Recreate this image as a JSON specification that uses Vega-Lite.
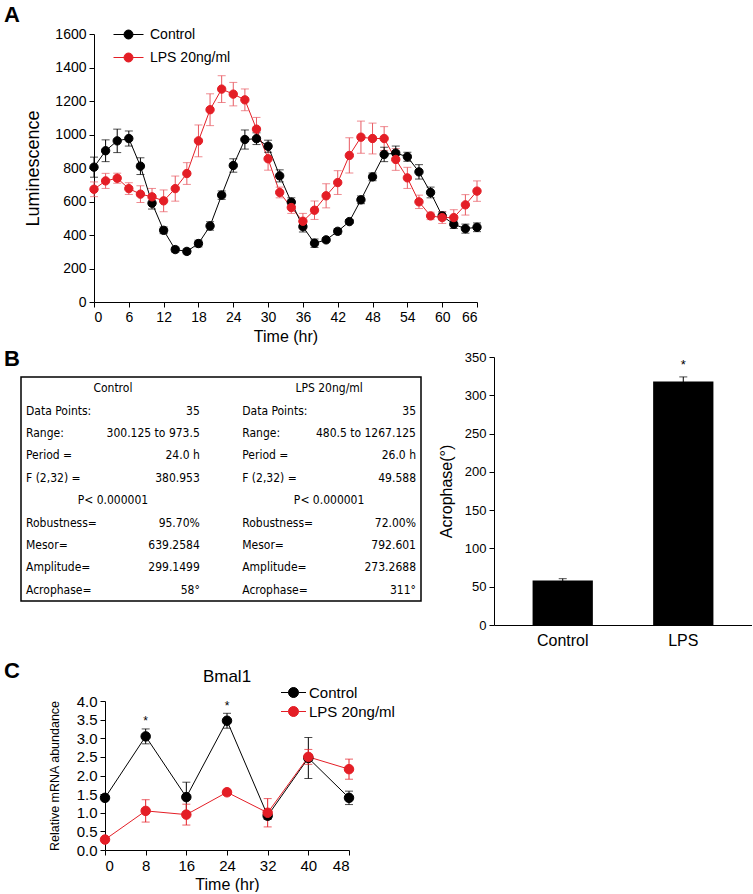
{
  "$schema": "https://vega.github.io/schema/vega-lite/v6.json",
  "padding": {"left": 4, "top": 4, "right": 0, "bottom": 0},
  "spacing": 4,
  "resolve": {"scale": {"color": "independent", "stroke": "independent"}, "legend": {"color": "independent", "stroke": "independent"}},
  "config": {
    "font": "Liberation Sans",
    "view": {"stroke": null},
    "axis": {"grid": false, "domainColor": "black", "tickColor": "black", "labelColor": "black", "titleColor": "black", "titleFontWeight": "normal", "labelFont": "Liberation Sans", "titleFont": "Liberation Sans", "tickSize": 5, "labelPadding": 3, "domainWidth": 1, "tickWidth": 1},
    "title": {"color": "black", "font": "Liberation Sans"},
    "legend": {"labelFont": "Liberation Sans", "labelColor": "black"}
  },
  "datasets": {
    "lum": [
      {"time": 0, "group": "Control", "lum": 805, "err": 60},
      {"time": 2, "group": "Control", "lum": 903, "err": 65},
      {"time": 4, "group": "Control", "lum": 962, "err": 70},
      {"time": 6, "group": "Control", "lum": 976, "err": 45},
      {"time": 8, "group": "Control", "lum": 811, "err": 50},
      {"time": 10, "group": "Control", "lum": 590, "err": 35},
      {"time": 12, "group": "Control", "lum": 428, "err": 20},
      {"time": 14, "group": "Control", "lum": 313, "err": 15},
      {"time": 16, "group": "Control", "lum": 302, "err": 15},
      {"time": 18, "group": "Control", "lum": 349, "err": 20},
      {"time": 20, "group": "Control", "lum": 454, "err": 25},
      {"time": 22, "group": "Control", "lum": 638, "err": 25},
      {"time": 24, "group": "Control", "lum": 815, "err": 40},
      {"time": 26, "group": "Control", "lum": 970, "err": 57},
      {"time": 28, "group": "Control", "lum": 975, "err": 35},
      {"time": 30, "group": "Control", "lum": 930, "err": 36},
      {"time": 32, "group": "Control", "lum": 753, "err": 36},
      {"time": 34, "group": "Control", "lum": 596, "err": 26},
      {"time": 36, "group": "Control", "lum": 450, "err": 32},
      {"time": 38, "group": "Control", "lum": 351, "err": 25},
      {"time": 40, "group": "Control", "lum": 371, "err": 12},
      {"time": 42, "group": "Control", "lum": 422, "err": 17},
      {"time": 44, "group": "Control", "lum": 480, "err": 12},
      {"time": 46, "group": "Control", "lum": 610, "err": 23},
      {"time": 48, "group": "Control", "lum": 747, "err": 23},
      {"time": 50, "group": "Control", "lum": 881, "err": 43},
      {"time": 52, "group": "Control", "lum": 889, "err": 42},
      {"time": 54, "group": "Control", "lum": 867, "err": 27},
      {"time": 56, "group": "Control", "lum": 777, "err": 43},
      {"time": 58, "group": "Control", "lum": 654, "err": 32},
      {"time": 60, "group": "Control", "lum": 514, "err": 23},
      {"time": 62, "group": "Control", "lum": 464, "err": 25},
      {"time": 64, "group": "Control", "lum": 438, "err": 27},
      {"time": 66, "group": "Control", "lum": 446, "err": 26},
      {"time": 0, "group": "LPS 20ng/ml", "lum": 673, "err": 44},
      {"time": 2, "group": "LPS 20ng/ml", "lum": 723, "err": 45},
      {"time": 4, "group": "LPS 20ng/ml", "lum": 739, "err": 30},
      {"time": 6, "group": "LPS 20ng/ml", "lum": 677, "err": 35},
      {"time": 8, "group": "LPS 20ng/ml", "lum": 644, "err": 50},
      {"time": 10, "group": "LPS 20ng/ml", "lum": 628, "err": 50},
      {"time": 12, "group": "LPS 20ng/ml", "lum": 604, "err": 65},
      {"time": 14, "group": "LPS 20ng/ml", "lum": 677, "err": 75},
      {"time": 16, "group": "LPS 20ng/ml", "lum": 767, "err": 65},
      {"time": 18, "group": "LPS 20ng/ml", "lum": 962, "err": 95},
      {"time": 20, "group": "LPS 20ng/ml", "lum": 1148, "err": 95},
      {"time": 22, "group": "LPS 20ng/ml", "lum": 1271, "err": 80},
      {"time": 24, "group": "LPS 20ng/ml", "lum": 1241, "err": 70},
      {"time": 26, "group": "LPS 20ng/ml", "lum": 1207, "err": 65},
      {"time": 28, "group": "LPS 20ng/ml", "lum": 1032, "err": 70},
      {"time": 30, "group": "LPS 20ng/ml", "lum": 855, "err": 68},
      {"time": 32, "group": "LPS 20ng/ml", "lum": 654, "err": 32},
      {"time": 34, "group": "LPS 20ng/ml", "lum": 564, "err": 35},
      {"time": 36, "group": "LPS 20ng/ml", "lum": 482, "err": 47},
      {"time": 38, "group": "LPS 20ng/ml", "lum": 548, "err": 55},
      {"time": 40, "group": "LPS 20ng/ml", "lum": 634, "err": 72},
      {"time": 42, "group": "LPS 20ng/ml", "lum": 713, "err": 71},
      {"time": 44, "group": "LPS 20ng/ml", "lum": 875, "err": 105},
      {"time": 46, "group": "LPS 20ng/ml", "lum": 984, "err": 96},
      {"time": 48, "group": "LPS 20ng/ml", "lum": 976, "err": 92},
      {"time": 50, "group": "LPS 20ng/ml", "lum": 976, "err": 71},
      {"time": 52, "group": "LPS 20ng/ml", "lum": 851, "err": 65},
      {"time": 54, "group": "LPS 20ng/ml", "lum": 741, "err": 63},
      {"time": 56, "group": "LPS 20ng/ml", "lum": 598, "err": 40},
      {"time": 58, "group": "LPS 20ng/ml", "lum": 514, "err": 22},
      {"time": 60, "group": "LPS 20ng/ml", "lum": 504, "err": 35},
      {"time": 62, "group": "LPS 20ng/ml", "lum": 504, "err": 47},
      {"time": 64, "group": "LPS 20ng/ml", "lum": 580, "err": 61},
      {"time": 66, "group": "LPS 20ng/ml", "lum": 662, "err": 61}
    ],
    "stats": [
      {"group": "Control", "stat": "Header", "label": "Control", "value": ""},
      {"group": "Control", "stat": "Data Points", "label": "Data Points:", "value": "35"},
      {"group": "Control", "stat": "Range", "label": "Range:", "value": "300.125 to 973.5"},
      {"group": "Control", "stat": "Period", "label": "Period =", "value": "24.0 h"},
      {"group": "Control", "stat": "F", "label": "F (2,32) =", "value": "380.953"},
      {"group": "Control", "stat": "P", "label": "P< 0.000001", "value": ""},
      {"group": "Control", "stat": "Robustness", "label": "Robustness=", "value": "95.70%"},
      {"group": "Control", "stat": "Mesor", "label": "Mesor=", "value": "639.2584"},
      {"group": "Control", "stat": "Amplitude", "label": "Amplitude=", "value": "299.1499"},
      {"group": "Control", "stat": "Acrophase", "label": "Acrophase=", "value": "58°"},
      {"group": "LPS 20ng/ml", "stat": "Header", "label": "LPS 20ng/ml", "value": ""},
      {"group": "LPS 20ng/ml", "stat": "Data Points", "label": "Data Points:", "value": "35"},
      {"group": "LPS 20ng/ml", "stat": "Range", "label": "Range:", "value": "480.5 to 1267.125"},
      {"group": "LPS 20ng/ml", "stat": "Period", "label": "Period =", "value": "26.0 h"},
      {"group": "LPS 20ng/ml", "stat": "F", "label": "F (2,32) =", "value": "49.588"},
      {"group": "LPS 20ng/ml", "stat": "P", "label": "P< 0.000001", "value": ""},
      {"group": "LPS 20ng/ml", "stat": "Robustness", "label": "Robustness=", "value": "72.00%"},
      {"group": "LPS 20ng/ml", "stat": "Mesor", "label": "Mesor=", "value": "792.601"},
      {"group": "LPS 20ng/ml", "stat": "Amplitude", "label": "Amplitude=", "value": "273.2688"},
      {"group": "LPS 20ng/ml", "stat": "Acrophase", "label": "Acrophase=", "value": "311°"}
    ],
    "acro": [
      {"group": "Control", "acro": 58, "err": 2.5, "sig": ""},
      {"group": "LPS", "acro": 318, "err": 6, "sig": "*"}
    ],
    "bmal": [
      {"time": 0, "group": "Control", "rel": 1.4, "err": 0.05, "sig": ""},
      {"time": 8, "group": "Control", "rel": 3.05, "err": 0.2, "sig": "*"},
      {"time": 16, "group": "Control", "rel": 1.42, "err": 0.4, "sig": ""},
      {"time": 24, "group": "Control", "rel": 3.47, "err": 0.2, "sig": "*"},
      {"time": 32, "group": "Control", "rel": 0.92, "err": 0.1, "sig": ""},
      {"time": 40, "group": "Control", "rel": 2.47, "err": 0.55, "sig": ""},
      {"time": 48, "group": "Control", "rel": 1.4, "err": 0.18, "sig": ""},
      {"time": 0, "group": "LPS 20ng/ml", "rel": 0.28, "err": 0.03, "sig": ""},
      {"time": 8, "group": "LPS 20ng/ml", "rel": 1.05, "err": 0.3, "sig": ""},
      {"time": 16, "group": "LPS 20ng/ml", "rel": 0.95, "err": 0.28, "sig": ""},
      {"time": 24, "group": "LPS 20ng/ml", "rel": 1.55, "err": 0.08, "sig": ""},
      {"time": 32, "group": "LPS 20ng/ml", "rel": 1.0, "err": 0.38, "sig": ""},
      {"time": 40, "group": "LPS 20ng/ml", "rel": 2.5, "err": 0.2, "sig": ""},
      {"time": 48, "group": "LPS 20ng/ml", "rel": 2.17, "err": 0.27, "sig": ""}
    ],
    "none": []
  },
  "vconcat": [
    {
      "spacing": 2,
      "resolve": {"scale": {"color": "independent", "stroke": "independent"}, "legend": {"color": "independent", "stroke": "independent"}},
      "hconcat": [
        {"width": 1, "height": 1, "data": {"name": "none"}, "mark": "point", "title": {"text": "A", "anchor": "start", "dx": -17, "fontSize": 22, "fontWeight": "bold", "baseline": "alphabetic", "offset": -10}},
        {
          "width": 383,
          "height": 268,
          "data": {"name": "lum"},
          "encoding": {
            "x": {"field": "time", "type": "quantitative", "scale": {"domain": [0, 66], "nice": false}, "axis": {"title": "Time (hr)", "values": [0, 6, 12, 18, 24, 30, 36, 42, 48, 54, 60, 66], "labelFontSize": 14, "titleFontSize": 16, "titlePadding": 4}},
            "y": {"field": "lum", "type": "quantitative", "scale": {"domain": [0, 1600], "nice": false}, "axis": {"title": "Luminescence", "values": [0, 200, 400, 600, 800, 1000, 1200, 1400, 1600], "format": "d", "labelFontSize": 14, "titleFontSize": 18, "titlePadding": 12}}
          },
          "layer": [
            {"transform": [{"filter": "datum.group == 'LPS 20ng/ml'"}], "mark": {"type": "line", "color": "#e41e26", "strokeWidth": 1}},
            {"transform": [{"filter": "datum.group == 'Control'"}], "mark": {"type": "line", "color": "black", "strokeWidth": 1}},
            {"transform": [{"filter": "datum.group == 'LPS 20ng/ml'"}], "mark": {"type": "errorbar", "thickness": 1, "rule": {"color": "#e85a62"}, "ticks": {"size": 8, "color": "#e85a62"}}, "encoding": {"yError": {"field": "err"}}},
            {"transform": [{"filter": "datum.group == 'Control'"}], "mark": {"type": "errorbar", "thickness": 1, "rule": {"color": "black"}, "ticks": {"size": 8, "color": "black"}}, "encoding": {"yError": {"field": "err"}}},
            {
              "mark": {"type": "point", "filled": true, "size": 70, "opacity": 1, "strokeWidth": 1},
              "encoding": {
                "color": {"field": "group", "type": "nominal", "scale": {"domain": ["Control", "LPS 20ng/ml"], "range": ["black", "#e41e26"]}, "legend": {"title": null, "orient": "none", "legendX": 19, "legendY": -15, "symbolType": "M-1,0L-0.3,0M0.3,0L1,0M0.3,0A0.3,0.3,0,1,1,-0.3,0A0.3,0.3,0,1,1,0.3,0", "symbolSize": 900, "symbolStrokeWidth": 1, "symbolOpacity": 1, "labelFontSize": 14, "labelOffset": 6, "rowPadding": 0, "padding": 0}},
                "stroke": {"field": "group", "type": "nominal", "scale": {"domain": ["Control", "LPS 20ng/ml"], "range": ["black", "#e41e26"]}, "legend": {"title": null, "orient": "none", "legendX": 19, "legendY": -15, "symbolType": "M-1,0L-0.3,0M0.3,0L1,0M0.3,0A0.3,0.3,0,1,1,-0.3,0A0.3,0.3,0,1,1,0.3,0", "symbolSize": 900, "symbolStrokeWidth": 1, "symbolOpacity": 1, "labelFontSize": 14, "labelOffset": 6, "rowPadding": 0, "padding": 0}}
              }
            }
          ]
        }
      ]
    },
    {
      "spacing": 12,
      "resolve": {"scale": {"color": "independent", "stroke": "independent"}, "legend": {"color": "independent", "stroke": "independent"}},
      "vconcat": [
        {
          "spacing": 16,
          "hconcat": [
            {
              "spacing": 6,
              "vconcat": [
                {"width": 1, "height": 1, "data": {"name": "none"}, "mark": "point", "title": {"text": "B", "anchor": "start", "dx": -17, "fontSize": 22, "fontWeight": "bold", "baseline": "alphabetic", "offset": -31}},
                {
                  "width": 400,
                  "height": 224,
                  "view": {"stroke": "black", "strokeWidth": 1.5},
                  "data": {"name": "stats"},
                  "layer": [
                    {
                      "transform": [{"filter": "datum.stat == 'Header' || datum.stat == 'P'"}],
                      "mark": {"type": "text", "font": "DejaVu Sans Condensed", "fontSize": 12, "align": "center", "baseline": "middle", "color": "black"},
                      "encoding": {
                        "x": {"field": "group", "type": "nominal", "bandPosition": 0.5, "scale": {"type": "band", "domain": ["Control", "LPS 20ng/ml"], "paddingInner": 0.15, "paddingOuter": 0}, "axis": null},
                        "y": {"field": "stat", "type": "nominal", "scale": {"type": "band", "domain": ["Header", "Data Points", "Range", "Period", "F", "P", "Robustness", "Mesor", "Amplitude", "Acrophase"], "paddingInner": 0, "paddingOuter": 0}, "axis": null},
                        "text": {"field": "label"}
                      }
                    },
                    {
                      "transform": [{"filter": "datum.stat != 'Header' && datum.stat != 'P'"}],
                      "mark": {"type": "text", "font": "DejaVu Sans Condensed", "fontSize": 12, "align": "left", "baseline": "middle", "dx": 5, "color": "black"},
                      "encoding": {
                        "x": {"field": "group", "type": "nominal", "bandPosition": 0, "scale": {"type": "band", "domain": ["Control", "LPS 20ng/ml"], "paddingInner": 0.15, "paddingOuter": 0}, "axis": null},
                        "y": {"field": "stat", "type": "nominal", "scale": {"type": "band", "domain": ["Header", "Data Points", "Range", "Period", "F", "P", "Robustness", "Mesor", "Amplitude", "Acrophase"], "paddingInner": 0, "paddingOuter": 0}, "axis": null},
                        "text": {"field": "label"}
                      }
                    },
                    {
                      "transform": [{"filter": "datum.stat != 'Header' && datum.stat != 'P'"}],
                      "mark": {"type": "text", "font": "DejaVu Sans Condensed", "fontSize": 12, "align": "right", "baseline": "middle", "dx": -5, "color": "black"},
                      "encoding": {
                        "x": {"field": "group", "type": "nominal", "bandPosition": 1, "scale": {"type": "band", "domain": ["Control", "LPS 20ng/ml"], "paddingInner": 0.15, "paddingOuter": 0}, "axis": null},
                        "y": {"field": "stat", "type": "nominal", "scale": {"type": "band", "domain": ["Header", "Data Points", "Range", "Period", "F", "P", "Robustness", "Mesor", "Amplitude", "Acrophase"], "paddingInner": 0, "paddingOuter": 0}, "axis": null},
                        "text": {"field": "value"}
                      }
                    }
                  ]
                }
              ]
            },
            {
              "width": 258,
              "height": 268,
              "data": {"name": "acro"},
              "encoding": {
                "x": {"field": "group", "type": "nominal", "scale": {"domain": ["Control", "LPS"], "paddingInner": 0.5, "paddingOuter": 0.32}, "axis": {"title": null, "labelAngle": 0, "ticks": false, "labelFontSize": 16, "labelPadding": 7}},
                "y": {"field": "acro", "type": "quantitative", "scale": {"domain": [0, 350], "nice": false}, "axis": {"title": "Acrophase(°)", "values": [0, 50, 100, 150, 200, 250, 300, 350], "labelFontSize": 13, "titleFontSize": 16, "titlePadding": 10}}
              },
              "layer": [
                {"mark": {"type": "bar", "color": "black"}},
                {"mark": {"type": "errorbar", "thickness": 1, "rule": {"color": "black"}, "ticks": {"size": 8, "color": "black"}}, "encoding": {"yError": {"field": "err"}}},
                {"mark": {"type": "text", "fontSize": 13, "dy": -17, "baseline": "middle", "color": "black"}, "encoding": {"text": {"field": "sig"}}}
              ]
            }
          ]
        },
        {
          "spacing": 26,
          "resolve": {"scale": {"color": "independent", "stroke": "independent"}, "legend": {"color": "independent", "stroke": "independent"}},
          "hconcat": [
            {"width": 1, "height": 1, "data": {"name": "none"}, "mark": "point", "title": {"text": "C", "anchor": "start", "dx": -17, "fontSize": 22, "fontWeight": "bold", "baseline": "alphabetic", "offset": 1}},
            {
              "width": 244,
              "height": 149,
              "title": {"text": "Bmal1", "fontSize": 17, "fontWeight": "normal", "anchor": "middle", "offset": -4},
              "data": {"name": "bmal"},
              "encoding": {
                "x": {"field": "time", "type": "quantitative", "scale": {"domain": [0, 48], "nice": false}, "axis": {"title": "Time (hr)", "values": [0, 8, 16, 24, 32, 40, 48], "labelFontSize": 15, "titleFontSize": 16, "titlePadding": 3}},
                "y": {"field": "rel", "type": "quantitative", "scale": {"domain": [0, 4], "nice": false}, "axis": {"title": "Relative mRNA abundance", "values": [0, 0.5, 1, 1.5, 2, 2.5, 3, 3.5, 4], "format": ".1f", "labelFontSize": 15, "titleFontSize": 12.5, "titlePadding": 15}}
              },
              "layer": [
                {"transform": [{"filter": "datum.group == 'Control'"}], "mark": {"type": "line", "color": "black", "strokeWidth": 1}},
                {"transform": [{"filter": "datum.group == 'LPS 20ng/ml'"}], "mark": {"type": "line", "color": "#e41e26", "strokeWidth": 1}},
                {"transform": [{"filter": "datum.group == 'Control'"}], "mark": {"type": "errorbar", "thickness": 1, "rule": {"color": "black"}, "ticks": {"size": 8, "color": "black"}}, "encoding": {"yError": {"field": "err"}}},
                {"transform": [{"filter": "datum.group == 'LPS 20ng/ml'"}], "mark": {"type": "errorbar", "thickness": 1, "rule": {"color": "#e41e26"}, "ticks": {"size": 8, "color": "#e41e26"}}, "encoding": {"yError": {"field": "err"}}},
                {
                  "mark": {"type": "point", "filled": true, "size": 90, "opacity": 1, "strokeWidth": 1},
                  "encoding": {
                    "color": {"field": "group", "type": "nominal", "scale": {"domain": ["Control", "LPS 20ng/ml"], "range": ["black", "#e41e26"]}, "legend": {"title": null, "orient": "none", "legendX": 178, "legendY": -19, "symbolType": "M-1.25,0L-0.5,0M0.5,0L1.25,0M0.5,0A0.5,0.5,0,1,1,-0.5,0A0.5,0.5,0,1,1,0.5,0", "symbolSize": 400, "symbolStrokeWidth": 1, "symbolOpacity": 1, "labelFontSize": 15, "labelOffset": 5, "rowPadding": -4, "padding": 0}},
                    "stroke": {"field": "group", "type": "nominal", "scale": {"domain": ["Control", "LPS 20ng/ml"], "range": ["black", "#e41e26"]}, "legend": {"title": null, "orient": "none", "legendX": 178, "legendY": -19, "symbolType": "M-1.25,0L-0.5,0M0.5,0L1.25,0M0.5,0A0.5,0.5,0,1,1,-0.5,0A0.5,0.5,0,1,1,0.5,0", "symbolSize": 400, "symbolStrokeWidth": 1, "symbolOpacity": 1, "labelFontSize": 15, "labelOffset": 5, "rowPadding": -4, "padding": 0}}
                  }
                },
                {"transform": [{"filter": "datum.group == 'Control'"}], "mark": {"type": "text", "fontSize": 12, "dy": -15, "baseline": "middle", "color": "black"}, "encoding": {"text": {"field": "sig"}}}
              ]
            }
          ]
        }
      ]
    }
  ]
}
